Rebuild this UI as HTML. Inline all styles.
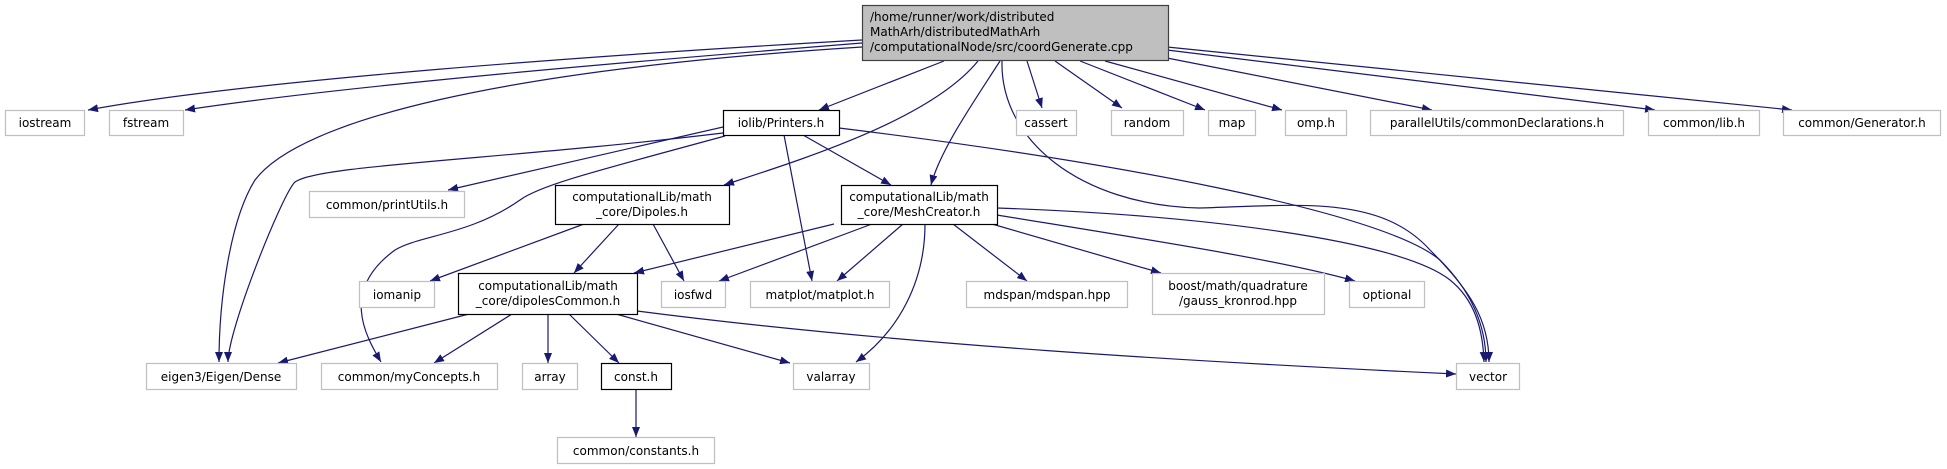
<!DOCTYPE html>
<html><head><meta charset="utf-8"><style>
html,body{margin:0;padding:0;background:#fff;}
svg{display:block;}
text{font-family:"DejaVu Sans","Liberation Sans",sans-serif;font-size:12px;fill:#000;}
.g{fill:#fff;stroke:#bfbfbf;stroke-width:1.2;}
.b{fill:#fff;stroke:#000;stroke-width:1.2;}
.e{fill:none;stroke:#191970;stroke-width:1.2;}
</style></head><body>
<svg width="1947" height="469" viewBox="0 0 1947 469" xmlns="http://www.w3.org/2000/svg">
<defs>
<marker id="a" markerWidth="11" markerHeight="8" refX="10" refY="4" orient="auto" markerUnits="userSpaceOnUse">
<polygon points="0,0 10,4 0,8" fill="#191970"/>
</marker>
</defs>
<g marker-end="url(#a)">
<path class="e" d="M862,40 C 600,55 250,80 88,110"/>
<path class="e" d="M862,43 C 650,60 350,85 185,110"/>
<path class="e" d="M862,47 C 500,70 300,120 255,180 C 230,220 219,300 219,362"/>
<path class="e" d="M944,61 L819,110"/>
<path class="e" d="M978,61 C 930,120 800,160 724,185"/>
<path class="e" d="M1000,61 C 975,100 940,150 931,185"/>
<path class="e" d="M1027,61 L1042,108"/>
<path class="e" d="M1055,61 L1122,108"/>
<path class="e" d="M1080,61 L1205,110"/>
<path class="e" d="M1105,61 L1282,110"/>
<path class="e" d="M1167,58 L1432,110"/>
<path class="e" d="M1167,50 L1655,110"/>
<path class="e" d="M1167,47 L1792,110"/>
<path class="e" d="M1002,61 C 1000,140 1080,205 1199,208 C 1300,205 1380,195 1430,250 C 1470,290 1489,320 1489,362"/>
<path class="e" d="M723,133 C 500,160 310,165 294,183 C 280,200 228,330 228,362"/>
<path class="e" d="M723,127 L448,190"/>
<path class="e" d="M725,136 C 600,170 540,185 520,200 C 470,235 420,235 395,250 C 340,290 365,335 381,362"/>
<path class="e" d="M803,135 L891,185"/>
<path class="e" d="M784,135 L812,281"/>
<path class="e" d="M839,128 C 1100,160 1380,210 1440,260 C 1475,295 1486,330 1486,362"/>
<path class="e" d="M584,224 L430,281"/>
<path class="e" d="M619,224 L574,273"/>
<path class="e" d="M653,224 L684,281"/>
<path class="e" d="M834,224 L634,273"/>
<path class="e" d="M872,224 L719,281"/>
<path class="e" d="M903,224 L837,281"/>
<path class="e" d="M925,224 C 925,280 900,330 856,362"/>
<path class="e" d="M953,224 L1027,281"/>
<path class="e" d="M985,222 L1161,273"/>
<path class="e" d="M997,215 C 1150,240 1280,260 1355,281"/>
<path class="e" d="M997,208 C 1200,215 1400,240 1450,280 C 1475,300 1483,330 1484,362"/>
<path class="e" d="M469,314 L278,363"/>
<path class="e" d="M512,314 L434,363"/>
<path class="e" d="M548,314 L548,363"/>
<path class="e" d="M569,314 L619,363"/>
<path class="e" d="M616,314 L790,363"/>
<path class="e" d="M637,311 C 900,345 1200,362 1456,374"/>
<path class="e" d="M636,389 L636,437"/>
</g>
<rect x="862.5" y="5.5" width="306" height="55" fill="#bfbfbf" stroke="#404040" stroke-width="1.2"/>
<text x="870" y="21">/home/runner/work/distributed</text>
<text x="870" y="36">MathArh/distributedMathArh</text>
<text x="870" y="51">/computationalNode/src/coordGenerate.cpp</text>
<g text-anchor="middle">
<rect class="g" x="5.5" y="110.5" width="79" height="25"/><text x="45" y="127">iostream</text>
<rect class="g" x="109.5" y="110.5" width="74" height="25"/><text x="146" y="127">fstream</text>
<rect class="b" x="723.5" y="110.5" width="116" height="25"/><text x="781" y="127">iolib/Printers.h</text>
<rect class="g" x="1016.5" y="110.5" width="60" height="25"/><text x="1046" y="127">cassert</text>
<rect class="g" x="1111.5" y="110.5" width="72" height="25"/><text x="1147" y="127">random</text>
<rect class="g" x="1208.5" y="110.5" width="47" height="25"/><text x="1232" y="127">map</text>
<rect class="g" x="1285.5" y="110.5" width="61" height="25"/><text x="1316" y="127">omp.h</text>
<rect class="g" x="1370.5" y="110.5" width="253" height="25"/><text x="1497" y="127">parallelUtils/commonDeclarations.h</text>
<rect class="g" x="1648.5" y="110.5" width="111" height="25"/><text x="1704" y="127">common/lib.h</text>
<rect class="g" x="1783.5" y="110.5" width="157" height="25"/><text x="1862" y="127">common/Generator.h</text>
<rect class="g" x="309.5" y="191.5" width="155" height="26"/><text x="387" y="209">common/printUtils.h</text>
<rect class="b" x="555.5" y="185.5" width="174" height="39"/><text x="642" y="201">computationalLib/math</text><text x="642" y="216">_core/Dipoles.h</text>
<rect class="b" x="841.5" y="185.5" width="156" height="39"/><text x="919" y="201">computationalLib/math</text><text x="919" y="216">_core/MeshCreator.h</text>
<rect class="g" x="359.5" y="281.5" width="75" height="26"/><text x="397" y="299">iomanip</text>
<rect class="b" x="458.5" y="273.5" width="179" height="41"/><text x="548" y="290">computationalLib/math</text><text x="548" y="305">_core/dipolesCommon.h</text>
<rect class="g" x="661.5" y="281.5" width="64" height="26"/><text x="693" y="299">iosfwd</text>
<rect class="g" x="750.5" y="281.5" width="139" height="26"/><text x="820" y="299">matplot/matplot.h</text>
<rect class="g" x="966.5" y="281.5" width="161" height="26"/><text x="1047" y="299">mdspan/mdspan.hpp</text>
<rect class="g" x="1152.5" y="273.5" width="172" height="41"/><text x="1238" y="290">boost/math/quadrature</text><text x="1238" y="305">/gauss_kronrod.hpp</text>
<rect class="g" x="1349.5" y="281.5" width="75" height="26"/><text x="1387" y="299">optional</text>
<rect class="g" x="146.5" y="363.5" width="150" height="26"/><text x="221" y="381">eigen3/Eigen/Dense</text>
<rect class="g" x="321.5" y="363.5" width="176" height="26"/><text x="409" y="381">common/myConcepts.h</text>
<rect class="g" x="522.5" y="363.5" width="55" height="26"/><text x="550" y="381">array</text>
<rect class="b" x="601.5" y="363.5" width="70" height="26"/><text x="636" y="381">const.h</text>
<rect class="g" x="793.5" y="363.5" width="76" height="26"/><text x="831" y="381">valarray</text>
<rect class="g" x="1456.5" y="363.5" width="63" height="26"/><text x="1488" y="381">vector</text>
<rect class="g" x="557.5" y="437.5" width="157" height="26"/><text x="636" y="455">common/constants.h</text>
</g>
</svg>
</body></html>
